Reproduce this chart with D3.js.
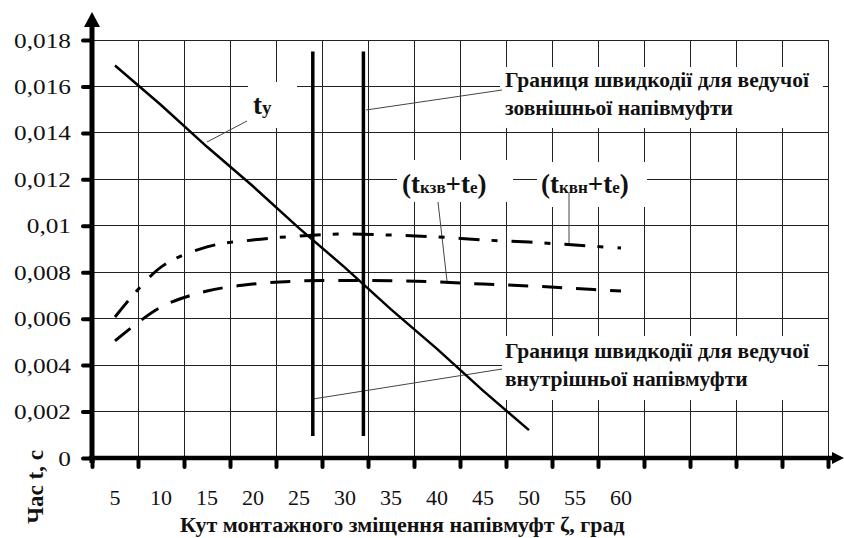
<!DOCTYPE html>
<html><head><meta charset="utf-8">
<script src="https://cdn.jsdelivr.net/npm/d3@7"></script>
<style>
body{margin:0;background:#fff}
svg{display:block}
text{font-family:"Liberation Serif","Times New Roman",serif;fill:#111}
</style>
</head><body>
<svg id="chart" width="844" height="538"></svg>
<script>
// ---------- data ----------
const angles = [5, 10, 15, 20, 25, 30, 35, 40, 45, 50, 55, 60];
const xTickLabels = ["5","10","15","20","25","30","35","40","45","50","55","60"];
const tYAngles = [5, 10, 15, 20, 25, 30, 35, 40, 45, 50];
const tY = [0.0169, 0.0152, 0.0134, 0.0117, 0.0099, 0.0082, 0.0064, 0.0047, 0.0029, 0.0012];
const tKzvTe = [0.00504, 0.0065, 0.00719, 0.00749, 0.00762, 0.00764, 0.00763, 0.00758, 0.00749, 0.00741, 0.0073, 0.00719];
const tKvnTe = [0.00607, 0.00822, 0.00909, 0.00939, 0.00956, 0.00965, 0.0096, 0.00952, 0.00939, 0.0093, 0.00917, 0.00904];
const yTicks = [0, 0.002, 0.004, 0.006, 0.008, 0.01, 0.012, 0.014, 0.016, 0.018];
const yTickLabels = ["0","0,002","0,004","0,006","0,008","0,01","0,012","0,014","0,016","0,018"];
const xTickValues = [2.5,7.5,12.5,17.5,22.5,27.5,32.5,37.5,42.5,47.5,52.5,57.5,62.5,67.5,72.5,77.5,82.5];
const boundaryAngles = [26.5, 32];
const boundarySpan = [0.00095, 0.0175];
const yTitle = "Час t, с";
const xTitle = "Кут монтажного зміщення напівмуфт ζ, град";
const outerLabel = ["Границя швидкодії для ведучої", "зовнішньої напівмуфти"];
const innerLabel = ["Границя швидкодії для ведучої", "внутрішньої напівмуфти"];

// ---------- scales ----------
const svg = d3.select("#chart");
const x = d3.scaleLinear().domain([2.5, 82.5]).range([92, 828]);
const y = d3.scaleLinear().domain([0, 0.018]).range([458, 40]);

// ---------- grid ----------
const grid = svg.append("g").attr("stroke", "#222").attr("stroke-width", 1).attr("shape-rendering", "crispEdges");
grid.selectAll(".h").data(yTicks.slice(1)).join("line")
  .attr("x1", x(2.5)).attr("x2", x(82.5)).attr("y1", d => y(d)).attr("y2", d => y(d));
grid.selectAll(".v").data(xTickValues.slice(1)).join("line")
  .attr("x1", d => x(d)).attr("x2", d => x(d)).attr("y1", y(0.018)).attr("y2", y(0));

// ---------- white label backgrounds ----------
const boxes = [
  [248, 82, 49, 46],
  [500, 67, 323, 61],
  [502, 336, 316, 64],
  [397, 160, 116, 42],
  [537, 162, 110, 45]
];
svg.append("g").selectAll("rect").data(boxes).join("rect")
  .attr("x", d => d[0]).attr("y", d => d[1]).attr("width", d => d[2]).attr("height", d => d[3])
  .attr("fill", "#fff");

// ---------- leader lines ----------
const leaders = [
  [207, 142, 247, 121],
  [366, 110, 502, 90],
  [313, 399, 502, 369],
  [438, 202, 447, 281],
  [569, 193, 569, 245]
];
svg.append("g").attr("stroke", "#444").attr("stroke-width", 1).selectAll("line").data(leaders).join("line")
  .attr("x1", d => d[0]).attr("y1", d => d[1]).attr("x2", d => d[2]).attr("y2", d => d[3]);

// ---------- series ----------
const lineGen = d3.line().x(d => x(d[0])).y(d => y(d[1]));
const smooth = d3.line().x(d => x(d[0])).y(d => y(d[1])).curve(d3.curveCatmullRom.alpha(0.5));

svg.append("path").datum(tYAngles.map((a, i) => [a, tY[i]]))
  .attr("d", lineGen).attr("fill", "none").attr("stroke", "#000").attr("stroke-width", 2.5);

svg.append("path").datum(angles.map((a, i) => [a, tKvnTe[i]]))
  .attr("d", smooth).attr("fill", "none").attr("stroke", "#000").attr("stroke-width", 3)
  .attr("stroke-dasharray", "21,12,6,14");

svg.append("path").datum(angles.map((a, i) => [a, tKzvTe[i]]))
  .attr("d", smooth).attr("fill", "none").attr("stroke", "#000").attr("stroke-width", 3)
  .attr("stroke-dasharray", "20,14");

// boundary lines
svg.append("g").selectAll("line").data(boundaryAngles).join("line")
  .attr("x1", d => x(d)).attr("x2", d => x(d))
  .attr("y1", y(boundarySpan[1])).attr("y2", y(boundarySpan[0]))
  .attr("stroke", "#000").attr("stroke-width", 3.5);

// ---------- axes ----------
const yAxis = svg.append("g").attr("transform", `translate(${x(2.5)},0)`)
  .call(d3.axisLeft(y).tickValues(yTicks).tickFormat((d, i) => yTickLabels[i]).tickSize(9).tickPadding(12));
yAxis.select(".domain").remove();
yAxis.selectAll(".tick line").attr("stroke", "#000").attr("stroke-width", 4).attr("stroke-linecap", "round");
yAxis.selectAll(".tick text").attr("font-size", 22).attr("font-family", null).attr("fill", "#111")
  .attr("x", null).attr("transform", "translate(-21,0) scale(1.15,1)");

const xAxis = svg.append("g").attr("transform", `translate(0,${y(0)})`)
  .call(d3.axisBottom(x).tickValues(xTickValues).tickFormat("").tickSize(9));
xAxis.select(".domain").remove();
xAxis.selectAll(".tick line").attr("stroke", "#000").attr("stroke-width", 4).attr("stroke-linecap", "round");

// x category labels
svg.append("g").selectAll("text").data(angles).join("text")
  .attr("x", d => x(d)).attr("y", 505).attr("text-anchor", "middle").attr("font-size", 22)
  .text((d, i) => xTickLabels[i]);

// axis lines with arrows
svg.append("line").attr("x1", x(2.5)).attr("x2", x(2.5)).attr("y1", y(0) + 5).attr("y2", 24)
  .attr("stroke", "#000").attr("stroke-width", 5);
svg.append("path").attr("d", `M${x(2.5)},12 L${x(2.5) - 8},27 L${x(2.5) + 8},27 Z`).attr("fill", "#000");
svg.append("line").attr("x1", x(2.5) - 3).attr("x2", 836).attr("y1", y(0)).attr("y2", y(0))
  .attr("stroke", "#000").attr("stroke-width", 4.5);
svg.append("path").attr("d", `M844,${y(0)} L832,${y(0) - 6} L832,${y(0) + 6} Z`).attr("fill", "#000");

// ---------- titles ----------
svg.append("text").attr("x", 180).attr("y", 532).attr("font-size", 22).attr("font-weight", "bold").text(xTitle);
svg.append("text").attr("transform", "translate(43,487) rotate(-90)").attr("text-anchor", "middle")
  .attr("font-size", 23).attr("font-weight", "bold").text(yTitle);

// ---------- annotations ----------
const ty = svg.append("text").attr("x", 253).attr("y", 114).attr("font-weight", "bold");
ty.append("tspan").attr("font-size", 27).text("t");
ty.append("tspan").attr("font-size", 19).text("у");

function sumLabel(x0, sub) {
  const t = svg.append("text").attr("x", x0).attr("y", 193).attr("font-weight", "bold");
  t.append("tspan").attr("font-size", 27).text("(t");
  t.append("tspan").attr("font-size", 17).text(sub);
  t.append("tspan").attr("font-size", 27).text("+t");
  t.append("tspan").attr("font-size", 17).text("е");
  t.append("tspan").attr("font-size", 27).text(")");
}
sumLabel(402, "кзв");
sumLabel(541, "квн");

function block(lines, x0, y0) {
  svg.append("g").selectAll("text").data(lines).join("text")
    .attr("x", x0).attr("y", (d, i) => y0 + i * 28).attr("font-size", 21.5).attr("font-weight", "bold")
    .text(d => d);
}
block(outerLabel, 505, 87);
block(innerLabel, 505, 358);
</script>
</body></html>
